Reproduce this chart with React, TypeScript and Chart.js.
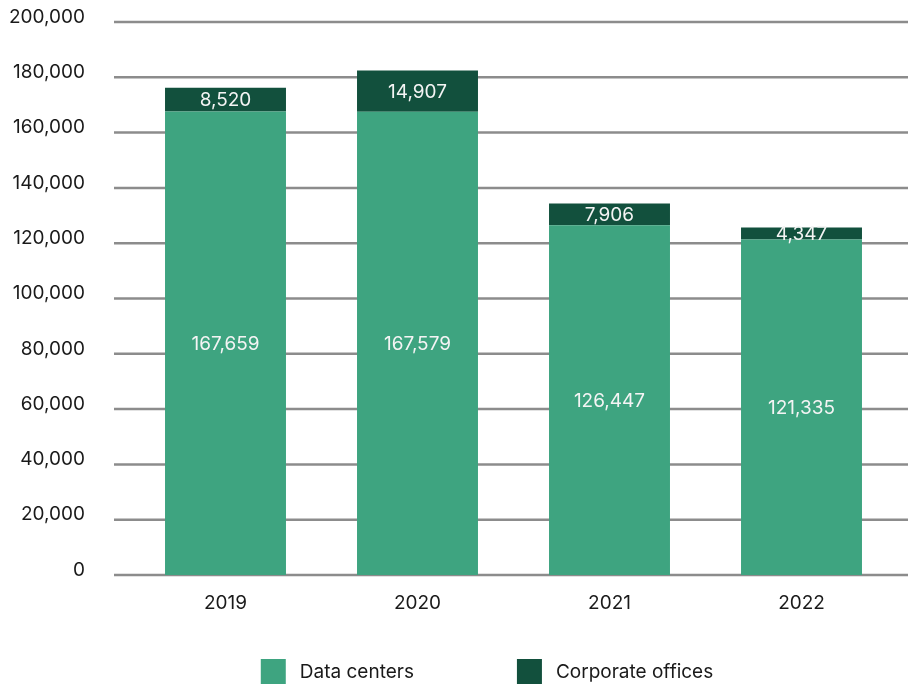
import React, { useEffect, useRef } from "react";
import { Chart, registerables } from "chart.js";

Chart.register(...registerables);

const years = ["2019", "2020", "2021", "2022"];
const dataCenters = [167659, 167579, 126447, 121335];
const corporateOffices = [8520, 14907, 7906, 4347];
const seriesLabels = ["Data centers", "Corporate offices"];
const seriesColors = ["#3ea480", "#12503d"];
const yMin = 0;
const yMax = 200000;
const yStep = 20000;

const FONT = "Inter, 'Liberation Sans', Arial, sans-serif";
const fmt = (v: number) => v.toLocaleString("en-US");

const gridPlugin = {
  id: "customGrid",
  beforeDatasetsDraw(chart: any) {
    const { ctx, chartArea } = chart;
    const y = chart.scales.y;
    ctx.save();
    ctx.strokeStyle = "#8c8c8c";
    ctx.lineWidth = 2.5;
    y.ticks.forEach((t: any) => {
      const py = y.getPixelForValue(t.value);
      ctx.beginPath();
      ctx.moveTo(chartArea.left - 15.5, py);
      ctx.lineTo(chart.width, py);
      ctx.stroke();
    });
    ctx.restore();
  },
};

const barLabelPlugin = {
  id: "barLabels",
  afterDatasetsDraw(chart: any) {
    const { ctx } = chart;
    ctx.save();
    ctx.fillStyle = "#f4f4f4";
    ctx.font = `19px ${FONT}`;
    ctx.textAlign = "center";
    ctx.textBaseline = "middle";
    chart.data.datasets.forEach((ds: any, di: number) => {
      const meta = chart.getDatasetMeta(di);
      meta.data.forEach((el: any, i: number) => {
        const { x, y, base } = el.getProps(["x", "y", "base"], true);
        ctx.fillText(fmt(ds.data[i]), x, (y + base) / 2 + 1);
      });
    });
    ctx.restore();
  },
};

const legendPlugin = {
  id: "customLegend",
  afterDraw(chart: any) {
    const { ctx } = chart;
    const box = 25;
    const gapText = 14;
    const gapItem = 103;
    ctx.save();
    ctx.font = `19px ${FONT}`;
    const items = chart.data.datasets.map((ds: any) => ({
      label: ds.label,
      color: ds.backgroundColor,
      w: ctx.measureText(ds.label).width,
    }));
    const total =
      items.reduce((s: number, it: any) => s + box + gapText + it.w, 0) +
      gapItem * (items.length - 1);
    let x = chart.width / 2 + 33 - total / 2;
    const top = chart.height - 30;
    items.forEach((it: any) => {
      ctx.fillStyle = it.color;
      ctx.fillRect(x, top, box, box);
      ctx.fillStyle = "#1a1a1a";
      ctx.textAlign = "left";
      ctx.textBaseline = "middle";
      ctx.fillText(it.label, x + box + gapText, top + box / 2 + 1);
      x += box + gapText + it.w + gapItem;
    });
    ctx.restore();
  },
};

export default function App() {
  const ref = useRef<HTMLCanvasElement | null>(null);

  useEffect(() => {
    if (!ref.current) return;
    const chart = new Chart(ref.current, {
      type: "bar",
      data: {
        labels: years,
        datasets: [
          {
            label: seriesLabels[0],
            data: dataCenters,
            backgroundColor: seriesColors[0],
            borderWidth: 0,
          },
          {
            label: seriesLabels[1],
            data: corporateOffices,
            backgroundColor: seriesColors[1],
            borderWidth: 0,
          },
        ],
      },
      options: {
        animation: false,
        responsive: false,
        devicePixelRatio: 1,
        layout: { padding: { left: 0, right: 10.5, top: 22, bottom: 0 } },
        datasets: {
          bar: { categoryPercentage: 1, barPercentage: 0.63 },
        },
        plugins: {
          legend: { display: false },
          tooltip: { enabled: false },
        },
        scales: {
          x: {
            stacked: true,
            grid: { display: false, drawTicks: false },
            border: { display: false },
            ticks: {
              color: "#1a1a1a",
              font: { family: FONT, size: 19 },
              padding: 17,
            },
            afterFit(scale: any) {
              scale.height = 114;
              scale.paddingLeft = 0;
              scale.paddingRight = 0;
            },
          },
          y: {
            stacked: true,
            min: yMin,
            max: yMax,
            grid: { display: false, drawTicks: false },
            border: { display: false },
            ticks: {
              stepSize: yStep,
              color: "#1a1a1a",
              font: { family: FONT, size: 19 },
              padding: 44.5,
              labelOffset: -5,
              callback: (v: any) => fmt(Number(v)),
            },
            afterFit(scale: any) {
              scale.width = 129.5;
              scale.paddingTop = 0;
              scale.paddingBottom = 0;
            },
          },
        },
      },
      plugins: [gridPlugin, barLabelPlugin, legendPlugin],
    });
    return () => chart.destroy();
  }, []);

  return (
    <div style={{ position: "fixed", left: 0, top: 0, width: 908, height: 689, background: "#fff" }}>
      <canvas ref={ref} width={908} height={689} style={{ width: 908, height: 689, display: "block" }} />
    </div>
  );
}
